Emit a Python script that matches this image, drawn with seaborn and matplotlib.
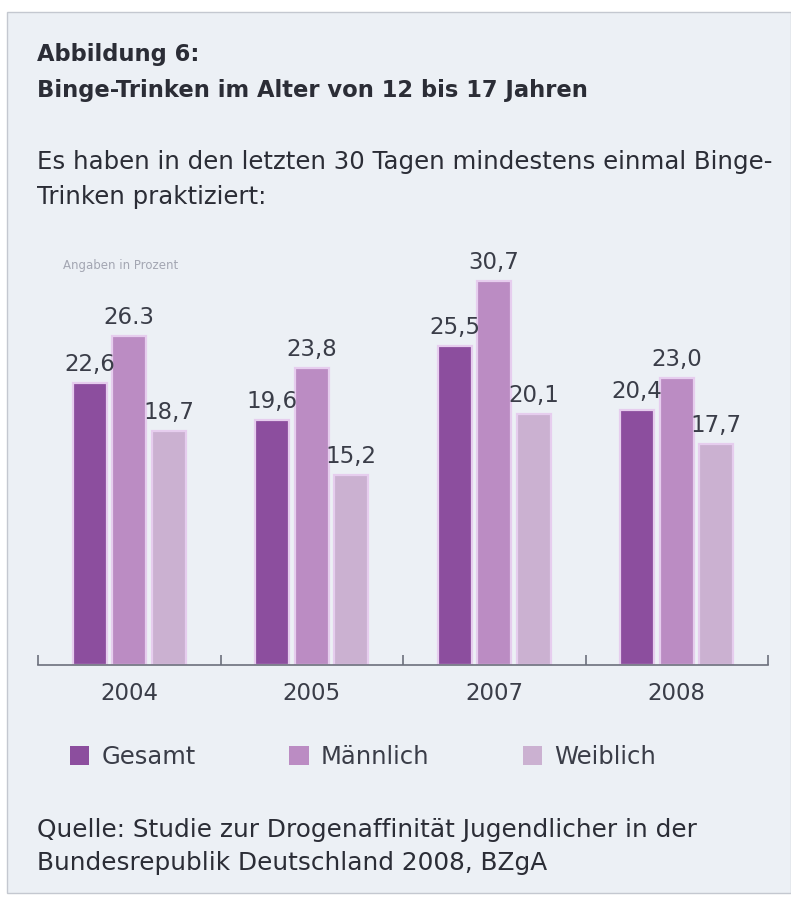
import matplotlib
matplotlib.use("Agg")
import matplotlib.pyplot as plt
from matplotlib.patches import Rectangle, Patch
import seaborn as sns
import pandas as pd

# Data
years = ["2004", "2005", "2007", "2008"]
groups = ["Gesamt", "Männlich", "Weiblich"]
gesamt = [22.6, 19.6, 25.5, 20.4]
maennlich = [26.3, 23.8, 30.7, 23.0]
weiblich = [18.7, 15.2, 20.1, 17.7]
colors = ["#8c4e9e", "#bb8cc3", "#cbb1d1"]

title_lines = ["Abbildung 6:", "Binge-Trinken im Alter von 12 bis 17 Jahren"]
subtitle_lines = ["Es haben in den letzten 30 Tagen mindestens einmal Binge-",
                  "Trinken praktiziert:"]
unit_note = "Angaben in Prozent"
source_lines = ["Quelle: Studie zur Drogenaffinität Jugendlicher in der",
                "Bundesrepublik Deutschland 2008, BZgA"]

df = pd.DataFrame({
    "Jahr": years * 3,
    "Gruppe": [g for g in groups for _ in years],
    "Wert": gesamt + maennlich + weiblich,
})

sns.set_style("white")
plt.rcParams["font.family"] = ["DejaVu Sans"]

W, H = 791, 899
fig = plt.figure(figsize=(W / 100, H / 100), dpi=100, facecolor="white")

def fx(px):
    return px / W

def fy(py):
    return 1 - py / H

# page panel behind everything
panel_bg = "#ecf0f5"
fig.patches.append(Rectangle((fx(7), fy(893)), 1 - fx(7), fy(12) - fy(893),
                             transform=fig.transFigure, facecolor=panel_bg,
                             edgecolor="#c4c8d0", linewidth=1.0, zorder=-10))

ax = fig.add_axes([fx(38), fy(665), fx(768) - fx(38), fy(250) - fy(665)])
ax.set_facecolor("none")
ax.set_zorder(2)

sns.barplot(data=df, x="Jahr", y="Wert", hue="Gruppe", order=years,
            hue_order=groups, palette=colors, saturation=1, width=0.65,
            gap=0.14, edgecolor="#e6cdee", linewidth=1.6, legend=False,
            ax=ax)

ax.set_xlim(-0.5, 3.5)
ax.set_ylim(0, 33.2)

# value labels with German decimal comma (one printed with a point)
point_labels = {("2004", "Männlich")}
for container, grp in zip(ax.containers, groups):
    labels = []
    for yr, bar in zip(years, container):
        v = bar.get_height()
        sep = "." if (yr, grp) in point_labels else ","
        labels.append(f"{v:.1f}".replace(".", sep))
    ax.bar_label(container, labels=labels, padding=5, fontsize=16.5,
                 color="#3a3d48")

for s in ["top", "right", "left"]:
    ax.spines[s].set_visible(False)
ax.spines["bottom"].set_color("#6c707c")
ax.spines["bottom"].set_linewidth(1.2)
ax.set_yticks([])
ax.set_xlabel("")
ax.set_ylabel("")

# boundary ticks pointing up, year labels without ticks
ax.set_xticks([-0.5, 0.5, 1.5, 2.5, 3.5], minor=True)
ax.tick_params(axis="x", which="minor", direction="in", length=7,
               width=1.2, color="#6c707c", bottom=True)
ax.tick_params(axis="x", which="major", length=0, pad=12,
               labelsize=16.5, labelcolor="#3a3d48")

# headings
text_col = "#2b2d36"
fig.text(fx(37), fy(55), title_lines[0], fontsize=16.3, fontweight="bold",
         color=text_col, va="center", ha="left")
fig.text(fx(37), fy(90), title_lines[1], fontsize=16.3, fontweight="bold",
         color=text_col, va="center", ha="left")
fig.text(fx(37), fy(162), subtitle_lines[0], fontsize=17.6,
         color=text_col, va="center", ha="left")
fig.text(fx(37), fy(197), subtitle_lines[1], fontsize=17.6,
         color=text_col, va="center", ha="left")
fig.text(fx(63), fy(266), unit_note, fontsize=8.5, color="#a3a6b2",
         va="center", ha="left")

# legend
handles = [Patch(facecolor=c, edgecolor="none") for c in colors]
fig.legend(handles, groups, loc="center left",
           bbox_to_anchor=(fx(48), fy(757)), ncol=3, frameon=False,
           fontsize=17.5, handlelength=0.8, handleheight=0.8,
           handletextpad=0.5, columnspacing=3.85, labelcolor="#3a3d48")

# source
fig.text(fx(37), fy(830), source_lines[0], fontsize=17.8, color=text_col,
         va="center", ha="left")
fig.text(fx(37), fy(863), source_lines[1], fontsize=17.8, color=text_col,
         va="center", ha="left")

fig.savefig("out.png", dpi=100, facecolor="white")
